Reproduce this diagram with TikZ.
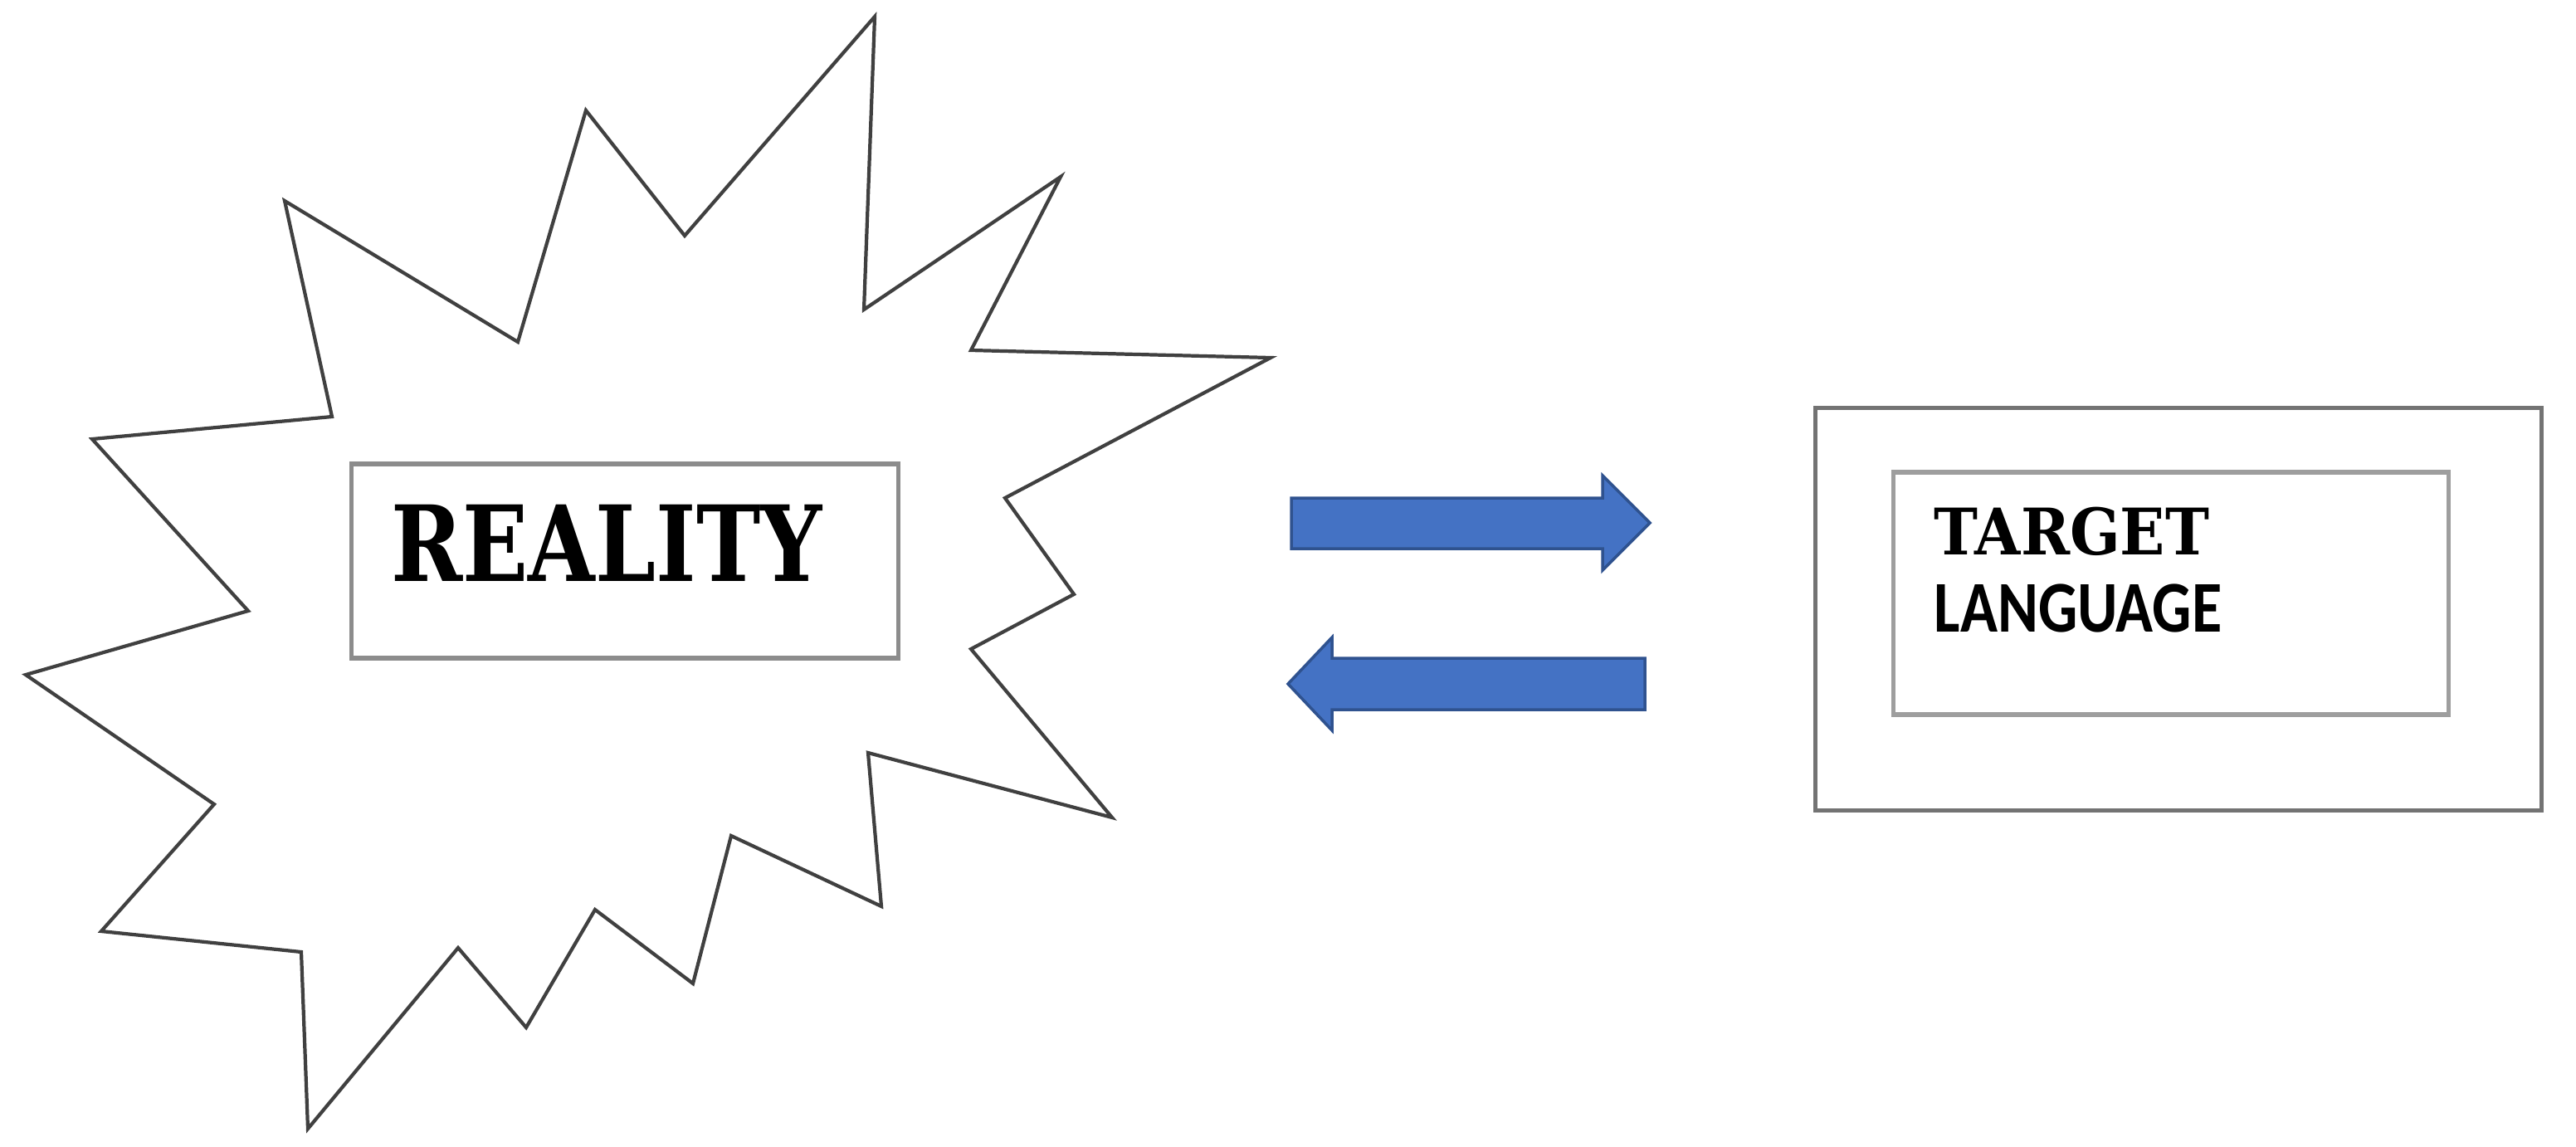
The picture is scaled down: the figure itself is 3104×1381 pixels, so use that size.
\documentclass[tikz,border=0pt]{standalone}
\usepackage{fontspec}
\usepackage{tikz}
\usetikzlibrary{positioning}
\newfontfamily\slabfont{DejaVu Serif}
\newfontfamily\calfont{Carlito}
\definecolor{arrowblue}{HTML}{4472C4}
\definecolor{arrowedge}{HTML}{2F528F}

\begin{document}
\begin{tikzpicture}[x=0.01cm,y=-0.01cm,
        starline/.style={line width=1.2pt,draw=black!75,line join=miter},
        frame/.style={draw=black!45,line width=1.5pt,inner sep=0pt},
        blockarrow/.style={fill=arrowblue,draw=arrowedge,line width=1pt},
        words/.style={inner sep=0pt,anchor=base west}]
        \useasboundingbox (0,0) rectangle (3104,1381);
        % starburst
        \draw[starline] (1054,20)--(1041,373)--(1278,213)--(1170,422)--(1531,431)--(1211,600)
            --(1294,716)--(1170,782)--(1340,985)--(1046,907)--(1062,1092)--(881,1007)
            --(835,1185)--(717,1096)--(634,1238)--(552,1142)--(371,1360)--(363,1147)
            --(122,1122)--(258,969)--(31,813)--(299,736)--(111,529)--(400,502)
            --(343,242)--(624,412)--(706,133)--(825,284)--cycle;
        \node[frame,minimum width=6.58cm,minimum height=2.34cm] (realitybox) at (753,676) {};
        \node[words,xscale=0.82] (reality) at (471,700) {\fontsize{36}{40}\slabfont\bfseries REALITY};
        
        % arrows
        \draw[blockarrow] (1556,600)--(1931,600)--(1931,573)--(1988,630)--(1931,687)--(1931,661)--(1556,661)--cycle;
        \draw[blockarrow] (1982,793)--(1605,793)--(1605,768)--(1552,824)--(1605,880)--(1605,855)--(1982,855)--cycle;
        
        % target language
        \node[frame,draw=black!55,minimum width=8.74cm,minimum height=4.85cm] (outerbox) at (2625,734) {};
        \node[frame,draw=black!38,minimum width=6.69cm,minimum height=2.92cm] (innerbox) at (2616,715) {};
        \node[words,xscale=0.92] (target) at (2330,668) {\fontsize{22}{26}\slabfont\bfseries TARGET};
        \node[words,xscale=0.845] (language) at (2330,761) {\fontsize{25}{28}\calfont\bfseries LANGUAGE};
    \end{tikzpicture}
\end{document}
